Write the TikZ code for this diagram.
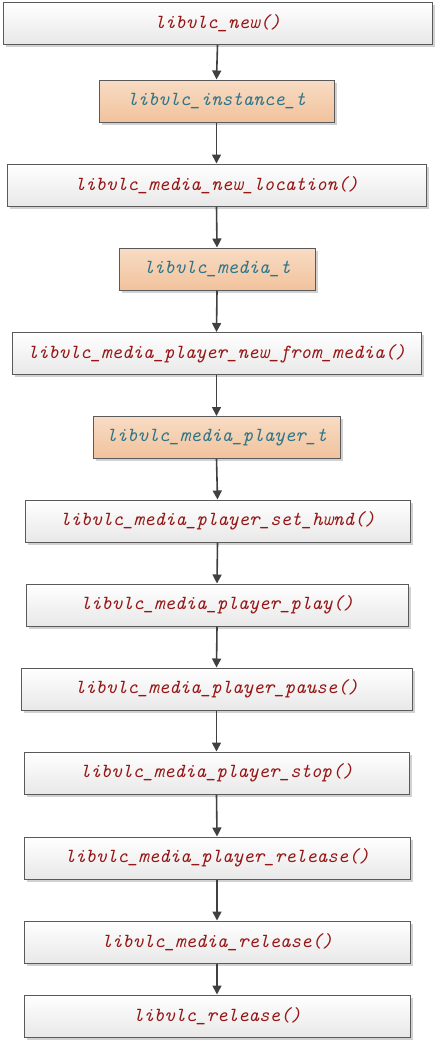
\documentclass[tikz,border=0pt]{standalone}
\usepackage{fontspec}
\usepackage{tikz}
\usetikzlibrary{arrows.meta,shadows}
\definecolor{callred}{RGB}{150,22,22}
\definecolor{typeteal}{RGB}{45,118,138}
\definecolor{boxline}{RGB}{90,90,90}
\definecolor{flowgray}{RGB}{64,64,64}
\definecolor{peachtop}{RGB}{248,220,196}
\definecolor{peachbot}{RGB}{241,194,156}
\newcommand{\vlcname}[1]{\fontsize{20}{20}\selectfont\ttfamily\itshape #1}

\begin{document}
\begin{tikzpicture}[x=1pt,y=1pt,
    callbox/.style={draw=boxline,line width=1pt,top color=white,bottom color=black!9,
      minimum height=42pt,inner sep=0pt,text=callred,
      drop shadow={shadow xshift=2.5pt,shadow yshift=-2.5pt,fill=black!18,opacity=1}},
    typebox/.style={callbox,top color=peachtop,bottom color=peachbot,text=typeteal},
    flow/.style={draw=flowgray,line width=1.6pt,-{Triangle[length=9pt,width=9pt]}}]
    \useasboundingbox (0,0) rectangle (437,-1044);
    \node[callbox,minimum width=429pt] (new) at (217.5,-23.5) {\vlcname{libvlc\_new()}};
    \node[typebox,minimum width=235pt] (inst) at (216.5,-101) {\vlcname{libvlc\_instance\_t}};
    \node[callbox,minimum width=419pt] (loc) at (216.5,-185) {\vlcname{libvlc\_media\_new\_location()}};
    \node[typebox,minimum width=196pt] (media) at (217,-269) {\vlcname{libvlc\_media\_t}};
    \node[callbox,minimum width=409pt] (frommedia) at (216.5,-353.5) {\vlcname{libvlc\_media\_player\_new\_from\_media()}};
    \node[typebox,minimum width=247pt] (player) at (216.5,-437.5) {\vlcname{libvlc\_media\_player\_t}};
    \node[callbox,minimum width=385pt] (hwnd) at (217.5,-521) {\vlcname{libvlc\_media\_player\_set\_hwnd()}};
    \node[callbox,minimum width=382pt] (play) at (217,-605) {\vlcname{libvlc\_media\_player\_play()}};
    \node[callbox,minimum width=391pt] (pause) at (216.5,-689) {\vlcname{libvlc\_media\_player\_pause()}};
    \node[callbox,minimum width=385pt] (stop) at (216.5,-773) {\vlcname{libvlc\_media\_player\_stop()}};
    \node[callbox,minimum width=386pt] (prel) at (217,-858) {\vlcname{libvlc\_media\_player\_release()}};
    \node[callbox,minimum width=386pt] (mrel) at (217,-942) {\vlcname{libvlc\_media\_release()}};
    \node[callbox,minimum width=386pt] (rel) at (217,-1016) {\vlcname{libvlc\_release()}};
    % one arrow per step, straight down
    \foreach \a/\b in {new/inst,inst/loc,loc/media,media/frommedia,frommedia/player,
      player/hwnd,hwnd/play,play/pause,pause/stop,stop/prel,prel/mrel,mrel/rel}
      \draw[flow] (\a.south) -- (\b.north);
  \end{tikzpicture}
\end{document}
